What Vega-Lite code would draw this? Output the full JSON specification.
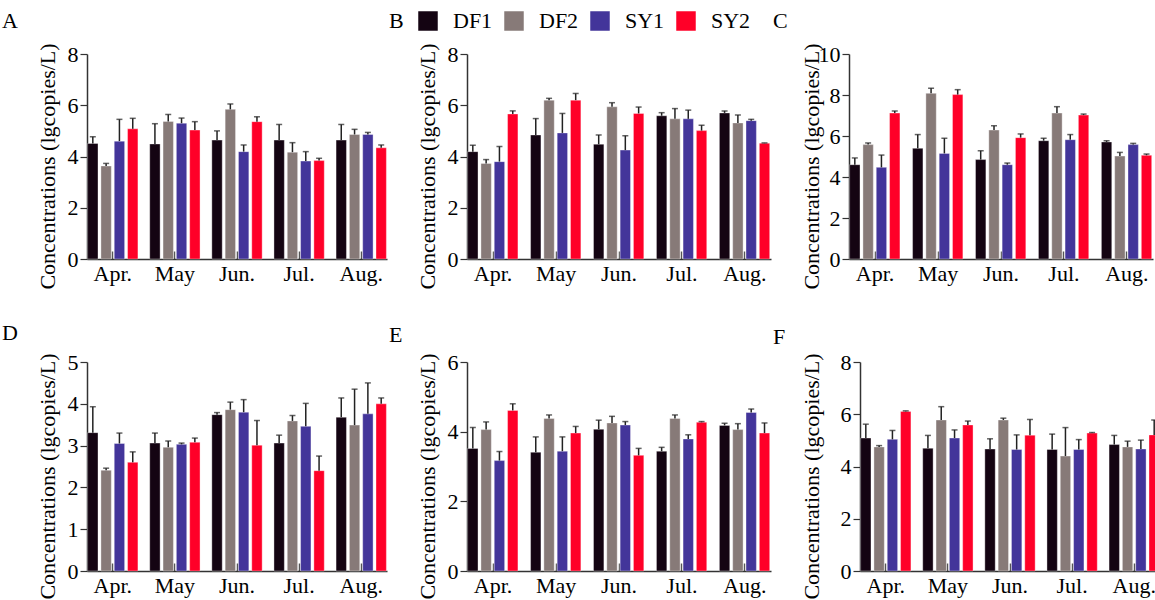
{
  "$schema": "https://vega.github.io/schema/vega-lite/v6.json",
  "padding": {"left": 1, "top": 9, "right": 0, "bottom": 0},
  "background": "white",
  "config": {
    "font": "Liberation Serif, Times New Roman, Times, serif",
    "view": {"stroke": null},
    "axis": {"grid": false, "labelFont": "Liberation Serif, Times New Roman, Times, serif", "titleFont": "Liberation Serif, Times New Roman, Times, serif", "labelFontSize": 22, "titleFontSize": 22, "titleFontWeight": "normal", "labelColor": "#000", "titleColor": "#000", "domainColor": "#333", "domainWidth": 1.5, "tickColor": "#333", "tickWidth": 1.2},
    "axisX": {"labelAngle": 0, "tickSize": -8, "labelPadding": 12, "tickColor": "#555", "tickWidth": 1.5},
    "axisY": {"tickSize": 7, "labelPadding": 2, "titlePadding": 8},
    "title": {"font": "Liberation Serif, Times New Roman, Times, serif", "fontSize": 22, "fontWeight": "normal", "anchor": "start", "frame": "bounds", "color": "#000"},
    "legend": {"orient": "none", "legendX": 330, "legendY": -44, "direction": "horizontal", "title": null, "symbolType": "square", "symbolSize": 380, "symbolStrokeWidth": 0, "labelFontSize": 22, "labelFont": "Liberation Serif, Times New Roman, Times, serif", "labelColor": "#000", "labelOffset": 14, "columnPadding": 10}
  },
  "datasets": {
    "d": [
      {"panel":"A","month":"Apr.","site":"DF1","value":4.51,"err":4.77},
      {"panel":"A","month":"Apr.","site":"DF2","value":3.63,"err":3.73},
      {"panel":"A","month":"Apr.","site":"SY1","value":4.6,"err":5.45},
      {"panel":"A","month":"Apr.","site":"SY2","value":5.08,"err":5.49},
      {"panel":"A","month":"May","site":"DF1","value":4.49,"err":5.28},
      {"panel":"A","month":"May","site":"DF2","value":5.37,"err":5.64},
      {"panel":"A","month":"May","site":"SY1","value":5.3,"err":5.5},
      {"panel":"A","month":"May","site":"SY2","value":5.03,"err":5.36},
      {"panel":"A","month":"Jun.","site":"DF1","value":4.64,"err":5.0},
      {"panel":"A","month":"Jun.","site":"DF2","value":5.84,"err":6.05},
      {"panel":"A","month":"Jun.","site":"SY1","value":4.19,"err":4.45},
      {"panel":"A","month":"Jun.","site":"SY2","value":5.36,"err":5.55},
      {"panel":"A","month":"Jul.","site":"DF1","value":4.64,"err":5.25},
      {"panel":"A","month":"Jul.","site":"DF2","value":4.17,"err":4.54},
      {"panel":"A","month":"Jul.","site":"SY1","value":3.82,"err":4.19},
      {"panel":"A","month":"Jul.","site":"SY2","value":3.84,"err":3.93},
      {"panel":"A","month":"Aug.","site":"DF1","value":4.64,"err":5.25},
      {"panel":"A","month":"Aug.","site":"DF2","value":4.86,"err":5.06},
      {"panel":"A","month":"Aug.","site":"SY1","value":4.86,"err":4.94},
      {"panel":"A","month":"Aug.","site":"SY2","value":4.34,"err":4.45},

      {"panel":"B","month":"Apr.","site":"DF1","value":4.19,"err":4.44},
      {"panel":"B","month":"Apr.","site":"DF2","value":3.73,"err":3.88},
      {"panel":"B","month":"Apr.","site":"SY1","value":3.8,"err":4.39},
      {"panel":"B","month":"Apr.","site":"SY2","value":5.66,"err":5.78},
      {"panel":"B","month":"May","site":"DF1","value":4.84,"err":5.48},
      {"panel":"B","month":"May","site":"DF2","value":6.2,"err":6.27},
      {"panel":"B","month":"May","site":"SY1","value":4.92,"err":5.68},
      {"panel":"B","month":"May","site":"SY2","value":6.2,"err":6.46},
      {"panel":"B","month":"Jun.","site":"DF1","value":4.48,"err":4.84},
      {"panel":"B","month":"Jun.","site":"DF2","value":5.94,"err":6.1},
      {"panel":"B","month":"Jun.","site":"SY1","value":4.25,"err":4.81},
      {"panel":"B","month":"Jun.","site":"SY2","value":5.68,"err":5.93},
      {"panel":"B","month":"Jul.","site":"DF1","value":5.59,"err":5.71},
      {"panel":"B","month":"Jul.","site":"DF2","value":5.47,"err":5.87},
      {"panel":"B","month":"Jul.","site":"SY1","value":5.47,"err":5.81},
      {"panel":"B","month":"Jul.","site":"SY2","value":5.01,"err":5.22},
      {"panel":"B","month":"Aug.","site":"DF1","value":5.7,"err":5.78},
      {"panel":"B","month":"Aug.","site":"DF2","value":5.31,"err":5.62},
      {"panel":"B","month":"Aug.","site":"SY1","value":5.4,"err":5.45},
      {"panel":"B","month":"Aug.","site":"SY2","value":4.52,"err":4.53},

      {"panel":"C","month":"Apr.","site":"DF1","value":4.6,"err":4.93},
      {"panel":"C","month":"Apr.","site":"DF2","value":5.58,"err":5.66},
      {"panel":"C","month":"Apr.","site":"SY1","value":4.47,"err":5.07},
      {"panel":"C","month":"Apr.","site":"SY2","value":7.12,"err":7.22},
      {"panel":"C","month":"May","site":"DF1","value":5.4,"err":6.07},
      {"panel":"C","month":"May","site":"DF2","value":8.08,"err":8.33},
      {"panel":"C","month":"May","site":"SY1","value":5.15,"err":5.89},
      {"panel":"C","month":"May","site":"SY2","value":8.02,"err":8.26},
      {"panel":"C","month":"Jun.","site":"DF1","value":4.85,"err":5.28},
      {"panel":"C","month":"Jun.","site":"DF2","value":6.29,"err":6.5},
      {"panel":"C","month":"Jun.","site":"SY1","value":4.6,"err":4.68},
      {"panel":"C","month":"Jun.","site":"SY2","value":5.92,"err":6.1},
      {"panel":"C","month":"Jul.","site":"DF1","value":5.77,"err":5.89},
      {"panel":"C","month":"Jul.","site":"DF2","value":7.12,"err":7.43},
      {"panel":"C","month":"Jul.","site":"SY1","value":5.82,"err":6.07},
      {"panel":"C","month":"Jul.","site":"SY2","value":7.02,"err":7.07},
      {"panel":"C","month":"Aug.","site":"DF1","value":5.71,"err":5.77},
      {"panel":"C","month":"Aug.","site":"DF2","value":5.02,"err":5.2},
      {"panel":"C","month":"Aug.","site":"SY1","value":5.58,"err":5.64},
      {"panel":"C","month":"Aug.","site":"SY2","value":5.06,"err":5.12},

      {"panel":"D","month":"Apr.","site":"DF1","value":3.31,"err":3.93},
      {"panel":"D","month":"Apr.","site":"DF2","value":2.41,"err":2.46},
      {"panel":"D","month":"Apr.","site":"SY1","value":3.05,"err":3.3},
      {"panel":"D","month":"Apr.","site":"SY2","value":2.6,"err":2.85},
      {"panel":"D","month":"May","site":"DF1","value":3.06,"err":3.3},
      {"panel":"D","month":"May","site":"DF2","value":2.96,"err":3.11},
      {"panel":"D","month":"May","site":"SY1","value":3.03,"err":3.06},
      {"panel":"D","month":"May","site":"SY2","value":3.08,"err":3.18},
      {"panel":"D","month":"Jun.","site":"DF1","value":3.74,"err":3.79},
      {"panel":"D","month":"Jun.","site":"DF2","value":3.86,"err":4.04},
      {"panel":"D","month":"Jun.","site":"SY1","value":3.8,"err":4.1},
      {"panel":"D","month":"Jun.","site":"SY2","value":3.01,"err":3.6},
      {"panel":"D","month":"Jul.","site":"DF1","value":3.06,"err":3.25},
      {"panel":"D","month":"Jul.","site":"DF2","value":3.59,"err":3.72},
      {"panel":"D","month":"Jul.","site":"SY1","value":3.46,"err":4.01},
      {"panel":"D","month":"Jul.","site":"SY2","value":2.4,"err":2.75},
      {"panel":"D","month":"Aug.","site":"DF1","value":3.68,"err":4.14},
      {"panel":"D","month":"Aug.","site":"DF2","value":3.49,"err":4.35},
      {"panel":"D","month":"Aug.","site":"SY1","value":3.76,"err":4.5},
      {"panel":"D","month":"Aug.","site":"SY2","value":4.0,"err":4.14},

      {"panel":"E","month":"Apr.","site":"DF1","value":3.52,"err":4.12},
      {"panel":"E","month":"Apr.","site":"DF2","value":4.06,"err":4.28},
      {"panel":"E","month":"Apr.","site":"SY1","value":3.17,"err":3.43},
      {"panel":"E","month":"Apr.","site":"SY2","value":4.61,"err":4.8},
      {"panel":"E","month":"May","site":"DF1","value":3.41,"err":3.85},
      {"panel":"E","month":"May","site":"DF2","value":4.38,"err":4.48},
      {"panel":"E","month":"May","site":"SY1","value":3.44,"err":3.85},
      {"panel":"E","month":"May","site":"SY2","value":3.96,"err":4.15},
      {"panel":"E","month":"Jun.","site":"DF1","value":4.07,"err":4.33},
      {"panel":"E","month":"Jun.","site":"DF2","value":4.25,"err":4.44},
      {"panel":"E","month":"Jun.","site":"SY1","value":4.19,"err":4.29},
      {"panel":"E","month":"Jun.","site":"SY2","value":3.32,"err":3.52},
      {"panel":"E","month":"Jul.","site":"DF1","value":3.44,"err":3.55},
      {"panel":"E","month":"Jul.","site":"DF2","value":4.38,"err":4.48},
      {"panel":"E","month":"Jul.","site":"SY1","value":3.79,"err":3.91},
      {"panel":"E","month":"Jul.","site":"SY2","value":4.27,"err":4.29},
      {"panel":"E","month":"Aug.","site":"DF1","value":4.18,"err":4.24},
      {"panel":"E","month":"Aug.","site":"DF2","value":4.06,"err":4.23},
      {"panel":"E","month":"Aug.","site":"SY1","value":4.55,"err":4.65},
      {"panel":"E","month":"Aug.","site":"SY2","value":3.96,"err":4.25},

      {"panel":"F","month":"Apr.","site":"DF1","value":5.09,"err":5.62},
      {"panel":"F","month":"Apr.","site":"DF2","value":4.75,"err":4.8},
      {"panel":"F","month":"Apr.","site":"SY1","value":5.04,"err":5.38},
      {"panel":"F","month":"Apr.","site":"SY2","value":6.11,"err":6.13},
      {"panel":"F","month":"May","site":"DF1","value":4.7,"err":5.19},
      {"panel":"F","month":"May","site":"DF2","value":5.78,"err":6.29},
      {"panel":"F","month":"May","site":"SY1","value":5.09,"err":5.4},
      {"panel":"F","month":"May","site":"SY2","value":5.59,"err":5.74},
      {"panel":"F","month":"Jun.","site":"DF1","value":4.67,"err":5.06},
      {"panel":"F","month":"Jun.","site":"DF2","value":5.78,"err":5.85},
      {"panel":"F","month":"Jun.","site":"SY1","value":4.65,"err":5.21},
      {"panel":"F","month":"Jun.","site":"SY2","value":5.2,"err":5.8},
      {"panel":"F","month":"Jul.","site":"DF1","value":4.65,"err":5.24},
      {"panel":"F","month":"Jul.","site":"DF2","value":4.4,"err":5.49},
      {"panel":"F","month":"Jul.","site":"SY1","value":4.65,"err":5.03},
      {"panel":"F","month":"Jul.","site":"SY2","value":5.28,"err":5.3},
      {"panel":"F","month":"Aug.","site":"DF1","value":4.84,"err":5.19},
      {"panel":"F","month":"Aug.","site":"DF2","value":4.75,"err":4.97},
      {"panel":"F","month":"Aug.","site":"SY1","value":4.67,"err":5.01},
      {"panel":"F","month":"Aug.","site":"SY2","value":5.21,"err":5.78}
    ]
  },
  "vconcat": [
    {
      "spacing": 1,
      "hconcat": [
        {
          "title": {"text": "A", "dx": -34, "offset": 10},
          "width": 300, "height": 205,
          "data": {"name": "d"},
          "transform": [{"filter": "datum.panel === 'A'"}],
          "encoding": {"x": {"field": "month", "type": "nominal", "sort": ["Apr.","May","Jun.","Jul.","Aug."], "scale": {"paddingInner": 0.19, "paddingOuter": 0.01}, "axis": {"title": null}}},
          "layer": [
            {"mark": {"type": "bar", "stroke": "#ffffff", "strokeWidth": 0.6, "strokeOpacity": 0.6},
             "encoding": {"xOffset": {"field": "site", "sort": ["DF1","DF2","SY1","SY2"], "scale": {"paddingInner": 0.22}},
               "y": {"field": "value", "type": "quantitative", "scale": {"domain": [0, 8]}, "axis": {"title": "Concentrations (lgcopies/L)", "values": [0,2,4,6,8], "titleY": 112}},
               "color": {"field": "site", "type": "nominal", "sort": ["DF1","DF2","SY1","SY2"], "scale": {"domain": ["DF1","DF2","SY1","SY2"], "range": ["#140412","#877a78","#43359a","#ff0028"]}}}},
            {"mark": {"type": "rule", "color": "#222", "strokeWidth": 1.5},
             "encoding": {"xOffset": {"field": "site", "sort": ["DF1","DF2","SY1","SY2"], "scale": {"paddingInner": 0.22}}, "y": {"field": "value", "type": "quantitative", "axis": {"title": "Concentrations (lgcopies/L)", "values": [0,2,4,6,8], "titleY": 112}}, "y2": {"field": "err"}}},
            {"mark": {"type": "tick", "orient": "horizontal", "color": "#222", "size": 6, "thickness": 1.5},
             "encoding": {"xOffset": {"field": "site", "sort": ["DF1","DF2","SY1","SY2"], "scale": {"paddingInner": 0.22}}, "y": {"field": "err", "type": "quantitative", "axis": {"title": "Concentrations (lgcopies/L)", "values": [0,2,4,6,8], "titleY": 112}}}}
          ]
        },
        {
          "title": {"text": "B", "dx": -27, "offset": 10},
          "width": 304, "height": 205,
          "data": {"name": "d"},
          "transform": [{"filter": "datum.panel === 'B'"}],
          "encoding": {"x": {"field": "month", "type": "nominal", "sort": ["Apr.","May","Jun.","Jul.","Aug."], "scale": {"paddingInner": 0.19, "paddingOuter": 0.01}, "axis": {"title": null}}},
          "layer": [
            {"mark": {"type": "bar", "stroke": "#ffffff", "strokeWidth": 0.6, "strokeOpacity": 0.6},
             "encoding": {"xOffset": {"field": "site", "sort": ["DF1","DF2","SY1","SY2"], "scale": {"paddingInner": 0.22}},
               "y": {"field": "value", "type": "quantitative", "scale": {"domain": [0, 8]}, "axis": {"title": "Concentrations (lgcopies/L)", "values": [0,2,4,6,8], "titleY": 112, "titlePadding": 8}},
               "color": {"field": "site", "type": "nominal", "sort": ["DF1","DF2","SY1","SY2"]}}},
            {"mark": {"type": "rule", "color": "#222", "strokeWidth": 1.5},
             "encoding": {"xOffset": {"field": "site", "sort": ["DF1","DF2","SY1","SY2"], "scale": {"paddingInner": 0.22}}, "y": {"field": "value", "type": "quantitative", "axis": {"title": "Concentrations (lgcopies/L)", "values": [0,2,4,6,8], "titleY": 112, "titlePadding": 8}}, "y2": {"field": "err"}}},
            {"mark": {"type": "tick", "orient": "horizontal", "color": "#222", "size": 6, "thickness": 1.5},
             "encoding": {"xOffset": {"field": "site", "sort": ["DF1","DF2","SY1","SY2"], "scale": {"paddingInner": 0.22}}, "y": {"field": "err", "type": "quantitative", "axis": {"title": "Concentrations (lgcopies/L)", "values": [0,2,4,6,8], "titleY": 112, "titlePadding": 8}}}}
          ]
        },
        {
          "title": {"text": "C", "dx": -27, "offset": 10},
          "width": 304, "height": 205,
          "data": {"name": "d"},
          "transform": [{"filter": "datum.panel === 'C'"}],
          "encoding": {"x": {"field": "month", "type": "nominal", "sort": ["Apr.","May","Jun.","Jul.","Aug."], "scale": {"paddingInner": 0.19, "paddingOuter": 0.01}, "axis": {"title": null}}},
          "layer": [
            {"mark": {"type": "bar", "stroke": "#ffffff", "strokeWidth": 0.6, "strokeOpacity": 0.6},
             "encoding": {"xOffset": {"field": "site", "sort": ["DF1","DF2","SY1","SY2"], "scale": {"paddingInner": 0.22}},
               "y": {"field": "value", "type": "quantitative", "scale": {"domain": [0, 10]}, "axis": {"title": "Concentrations (lgcopies/L)", "values": [0,2,4,6,8,10], "titleY": 112, "titlePadding": -5}},
               "color": {"field": "site", "type": "nominal", "sort": ["DF1","DF2","SY1","SY2"]}}},
            {"mark": {"type": "rule", "color": "#222", "strokeWidth": 1.5},
             "encoding": {"xOffset": {"field": "site", "sort": ["DF1","DF2","SY1","SY2"], "scale": {"paddingInner": 0.22}}, "y": {"field": "value", "type": "quantitative", "axis": {"title": "Concentrations (lgcopies/L)", "values": [0,2,4,6,8,10], "titleY": 112, "titlePadding": -5}}, "y2": {"field": "err"}}},
            {"mark": {"type": "tick", "orient": "horizontal", "color": "#222", "size": 6, "thickness": 1.5},
             "encoding": {"xOffset": {"field": "site", "sort": ["DF1","DF2","SY1","SY2"], "scale": {"paddingInner": 0.22}}, "y": {"field": "err", "type": "quantitative", "axis": {"title": "Concentrations (lgcopies/L)", "values": [0,2,4,6,8,10], "titleY": 112, "titlePadding": -5}}}}
          ]
        }
      ]
    },
    {
      "spacing": 1,
      "hconcat": [
        {
          "title": {"text": "D", "dx": -34, "offset": 6},
          "width": 300, "height": 209,
          "data": {"name": "d"},
          "transform": [{"filter": "datum.panel === 'D'"}],
          "encoding": {"x": {"field": "month", "type": "nominal", "sort": ["Apr.","May","Jun.","Jul.","Aug."], "scale": {"paddingInner": 0.19, "paddingOuter": 0.01}, "axis": {"title": null}}},
          "layer": [
            {"mark": {"type": "bar", "stroke": "#ffffff", "strokeWidth": 0.6, "strokeOpacity": 0.6},
             "encoding": {"xOffset": {"field": "site", "sort": ["DF1","DF2","SY1","SY2"], "scale": {"paddingInner": 0.22}},
               "y": {"field": "value", "type": "quantitative", "scale": {"domain": [0, 5]}, "axis": {"title": "Concentrations (lgcopies/L)", "values": [0,1,2,3,4,5], "titleY": 114}},
               "color": {"field": "site", "type": "nominal", "sort": ["DF1","DF2","SY1","SY2"]}}},
            {"mark": {"type": "rule", "color": "#222", "strokeWidth": 1.5},
             "encoding": {"xOffset": {"field": "site", "sort": ["DF1","DF2","SY1","SY2"], "scale": {"paddingInner": 0.22}}, "y": {"field": "value", "type": "quantitative", "axis": {"title": "Concentrations (lgcopies/L)", "values": [0,1,2,3,4,5], "titleY": 114}}, "y2": {"field": "err"}}},
            {"mark": {"type": "tick", "orient": "horizontal", "color": "#222", "size": 6, "thickness": 1.5},
             "encoding": {"xOffset": {"field": "site", "sort": ["DF1","DF2","SY1","SY2"], "scale": {"paddingInner": 0.22}}, "y": {"field": "err", "type": "quantitative", "axis": {"title": "Concentrations (lgcopies/L)", "values": [0,1,2,3,4,5], "titleY": 114}}}}
          ]
        },
        {
          "title": {"text": "E", "dx": -27, "offset": 4},
          "width": 304, "height": 209,
          "data": {"name": "d"},
          "transform": [{"filter": "datum.panel === 'E'"}],
          "encoding": {"x": {"field": "month", "type": "nominal", "sort": ["Apr.","May","Jun.","Jul.","Aug."], "scale": {"paddingInner": 0.19, "paddingOuter": 0.01}, "axis": {"title": null}}},
          "layer": [
            {"mark": {"type": "bar", "stroke": "#ffffff", "strokeWidth": 0.6, "strokeOpacity": 0.6},
             "encoding": {"xOffset": {"field": "site", "sort": ["DF1","DF2","SY1","SY2"], "scale": {"paddingInner": 0.22}},
               "y": {"field": "value", "type": "quantitative", "scale": {"domain": [0, 6]}, "axis": {"title": "Concentrations (lgcopies/L)", "values": [0,2,4,6], "titleY": 114, "titlePadding": 8}},
               "color": {"field": "site", "type": "nominal", "sort": ["DF1","DF2","SY1","SY2"]}}},
            {"mark": {"type": "rule", "color": "#222", "strokeWidth": 1.5},
             "encoding": {"xOffset": {"field": "site", "sort": ["DF1","DF2","SY1","SY2"], "scale": {"paddingInner": 0.22}}, "y": {"field": "value", "type": "quantitative", "axis": {"title": "Concentrations (lgcopies/L)", "values": [0,2,4,6], "titleY": 114, "titlePadding": 8}}, "y2": {"field": "err"}}},
            {"mark": {"type": "tick", "orient": "horizontal", "color": "#222", "size": 6, "thickness": 1.5},
             "encoding": {"xOffset": {"field": "site", "sort": ["DF1","DF2","SY1","SY2"], "scale": {"paddingInner": 0.22}}, "y": {"field": "err", "type": "quantitative", "axis": {"title": "Concentrations (lgcopies/L)", "values": [0,2,4,6], "titleY": 114, "titlePadding": 8}}}}
          ]
        },
        {
          "title": {"text": "F", "dx": -27, "offset": 2},
          "width": 300, "height": 209,
          "data": {"name": "d"},
          "transform": [{"filter": "datum.panel === 'F'"}],
          "encoding": {"x": {"field": "month", "type": "nominal", "sort": ["Apr.","May","Jun.","Jul.","Aug."], "scale": {"paddingInner": 0.19, "paddingOuter": 0.01}, "axis": {"title": null}}},
          "layer": [
            {"mark": {"type": "bar", "stroke": "#ffffff", "strokeWidth": 0.6, "strokeOpacity": 0.6},
             "encoding": {"xOffset": {"field": "site", "sort": ["DF1","DF2","SY1","SY2"], "scale": {"paddingInner": 0.22}},
               "y": {"field": "value", "type": "quantitative", "scale": {"domain": [0, 8]}, "axis": {"title": "Concentrations (lgcopies/L)", "values": [0,2,4,6,8], "titleY": 114, "titlePadding": 17}},
               "color": {"field": "site", "type": "nominal", "sort": ["DF1","DF2","SY1","SY2"]}}},
            {"mark": {"type": "rule", "color": "#222", "strokeWidth": 1.5},
             "encoding": {"xOffset": {"field": "site", "sort": ["DF1","DF2","SY1","SY2"], "scale": {"paddingInner": 0.22}}, "y": {"field": "value", "type": "quantitative", "axis": {"title": "Concentrations (lgcopies/L)", "values": [0,2,4,6,8], "titleY": 114, "titlePadding": 17}}, "y2": {"field": "err"}}},
            {"mark": {"type": "tick", "orient": "horizontal", "color": "#222", "size": 6, "thickness": 1.5},
             "encoding": {"xOffset": {"field": "site", "sort": ["DF1","DF2","SY1","SY2"], "scale": {"paddingInner": 0.22}}, "y": {"field": "err", "type": "quantitative", "axis": {"title": "Concentrations (lgcopies/L)", "values": [0,2,4,6,8], "titleY": 114, "titlePadding": 17}}}}
          ]
        }
      ]
    }
  ],
  "spacing": 32
}
